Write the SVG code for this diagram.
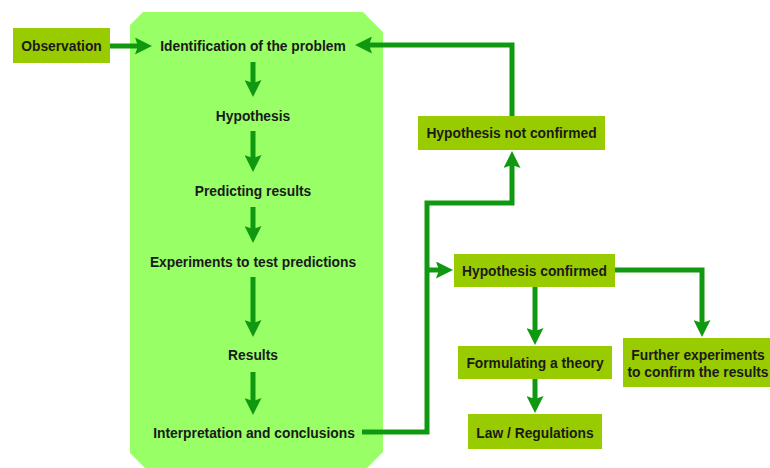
<svg xmlns="http://www.w3.org/2000/svg" width="770" height="468" viewBox="0 0 770 468">
  <style>
    .lbl { font-family: "Liberation Sans", Arial, sans-serif; font-weight: bold; font-size: 13.8px; fill: #1a1a1a; text-anchor: middle; }
    .box { fill: #99cc00; }
    .flow { fill: none; stroke: #109910; stroke-width: 5; stroke-linejoin: miter; marker-end: url(#head); }
  </style>
  <defs>
    <marker id="head" viewBox="0 0 17 17" refX="3" refY="8.5" markerWidth="17" markerHeight="17" markerUnits="userSpaceOnUse" orient="auto">
      <path d="M0,0 L17,8.5 L0,17 L3,8.5 z" fill="#109910"/>
    </marker>
  </defs>

  <rect width="770" height="468" fill="#ffffff"/>

  <!-- research cycle panel -->
  <g id="cycle-panel">
    <polygon points="130,25 143,12 363,12 383,32 383,452 365,470 147,470 130,453" fill="#99ff66"/>
  </g>

  <g id="observation">
    <rect class="box" x="13" y="28" width="97" height="35"/>
    <text class="lbl" x="61.5" y="51">Observation</text>
  </g>

  <g id="identification">
    <text class="lbl" x="253" y="51">Identification of the problem</text>
  </g>
  <g id="hypothesis">
    <text class="lbl" x="253" y="121">Hypothesis</text>
  </g>
  <g id="predicting">
    <text class="lbl" x="253" y="196">Predicting results</text>
  </g>
  <g id="experiments">
    <text class="lbl" x="253" y="267">Experiments to test predictions</text>
  </g>
  <g id="results">
    <text class="lbl" x="253" y="360">Results</text>
  </g>
  <g id="interpretation">
    <text class="lbl" x="254" y="438">Interpretation and conclusions</text>
  </g>

  <g id="not-confirmed">
    <rect class="box" x="418" y="116" width="187" height="34"/>
    <text class="lbl" x="511.5" y="138">Hypothesis not confirmed</text>
  </g>

  <g id="confirmed">
    <rect class="box" x="454" y="254" width="161" height="33"/>
    <text class="lbl" x="534.5" y="276">Hypothesis confirmed</text>
  </g>

  <g id="theory">
    <rect class="box" x="458" y="346" width="154" height="33"/>
    <text class="lbl" x="535" y="368">Formulating a theory</text>
  </g>

  <g id="law">
    <rect class="box" x="468" y="414" width="134" height="35"/>
    <text class="lbl" x="535" y="438">Law / Regulations</text>
  </g>

  <g id="further">
    <rect class="box" x="623" y="338" width="150" height="49"/>
    <text class="lbl" x="698" y="360">Further experiments</text>
    <text class="lbl" x="698" y="377">to confirm the results</text>
  </g>

  <!-- connectors -->
  <g id="connectors">
    <line class="flow" x1="110" y1="46" x2="138" y2="46"/>
    <line class="flow" x1="253" y1="62" x2="253" y2="83"/>
    <line class="flow" x1="253" y1="131" x2="253" y2="158"/>
    <line class="flow" x1="253" y1="207" x2="253" y2="229"/>
    <line class="flow" x1="253" y1="277" x2="253" y2="323"/>
    <line class="flow" x1="253" y1="372" x2="253" y2="401"/>
    <polyline class="flow" points="512,116 512,45 369,45"/>
    <polyline class="flow" points="362,432 427,432 427,203 512,203 512,165"/>
    <line class="flow" x1="427" y1="270" x2="439" y2="270"/>
    <polyline class="flow" points="615,270 702,270 702,323"/>
    <line class="flow" x1="535" y1="287" x2="535" y2="331"/>
    <line class="flow" x1="535" y1="379" x2="535" y2="399"/>
  </g>
</svg>
